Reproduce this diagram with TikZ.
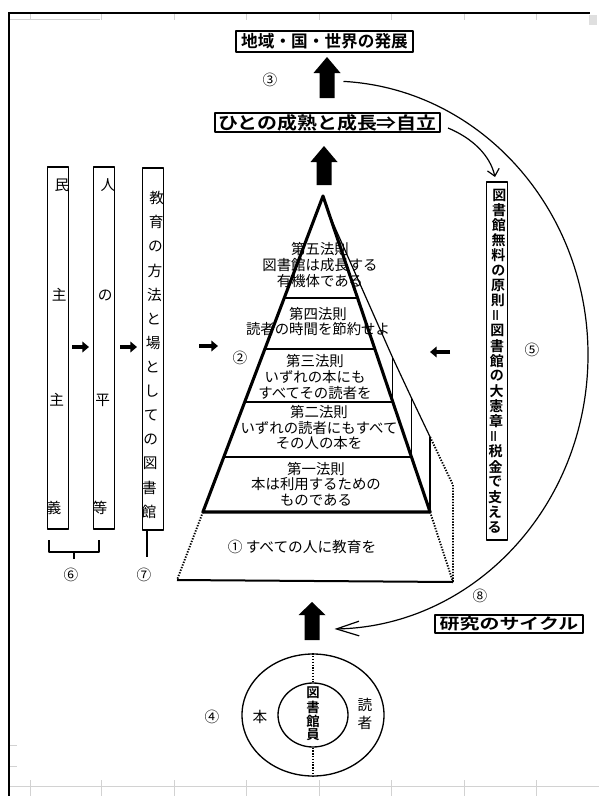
\documentclass[tikz,border=0pt]{standalone}
\usepackage{fontspec}
\usepackage{graphicx}
\newfontfamily\jp{Noto Sans CJK JP}[BoldFont={Noto Sans CJK JP Bold}]
\usetikzlibrary{arrows.meta,shapes.geometric}
\newcommand\bigUp[4]{%
  \fill (#1-7.5,#4) -- (#1-7.5,#3) -- (#1-13.5,#3) -- (#1,#2) -- (#1+13.5,#3) -- (#1+7.5,#3) -- (#1+7.5,#4) -- cycle;}
\tikzset{
  titlebox/.style={draw, line width=1.1pt, inner sep=0pt, font=\jp\bfseries},
  lawtxt/.style={font=\jp\fontsize{10.8}{11.7}\selectfont, align=center, inner sep=0pt},
  vch/.style={font=\jp\fontsize{11}{11}\selectfont, inner sep=0pt},
  vchb/.style={font=\jp\bfseries\fontsize{10.5}{10.5}\selectfont, inner sep=0pt},
  num/.style={font=\jp\fontsize{11}{11}\selectfont, inner sep=0pt},
  vbox/.style={draw, line width=0.9pt, inner sep=0pt, minimum width=15.6pt},
  smallarr/.style={line width=3pt, -{Triangle[length=5pt,width=8pt]}},
  dotline/.style={line width=1.4pt, dash pattern=on 1pt off 1.1pt},
  layer/.style={line width=1.1pt},
  thinline/.style={line width=0.9pt}
}
\begin{document}
\begin{tikzpicture}[x=0.75pt,y=-0.75pt,line join=round]
\useasboundingbox (0,0) rectangle (599,796);
\fill[white] (0,0) rectangle (599,796);

% sheet grid and frame
\begin{scope}[gray!35, line width=0.6pt]
  \draw (9,786) -- (599,786);
  \foreach \x in {30,101,174,246,319,391,464,536} {\draw (\x,780) -- (\x,796); \draw (\x,14) -- (\x,20);}
  \foreach \y in {745,766} {\draw (9,\y) -- (17,\y);}
  \draw (9,19) -- (100,19);
  \fill[gray!25] (589,15) rectangle (597,25);
\end{scope}
\draw[line width=2.2pt] (9,796) -- (9,13);
\draw[line width=1.5pt] (8,13) -- (590,13);

% top boxes
\node[titlebox, minimum width=132.75pt, minimum height=15.75pt] (t1) at (324.5,41.5)
  {\fontsize{12.5}{12.5}\selectfont 地域・国・世界の発展};
\node[titlebox, minimum width=168.75pt, minimum height=14.25pt] (t2) at (327.5,122.5)
  {\fontsize{13}{13}\selectfont\scalebox{1.15}[1]{ひとの成熟と成長⇒自立}};
\node[titlebox, minimum width=111pt, minimum height=13.5pt] (t3) at (509,624)
  {\fontsize{11.5}{11.5}\selectfont\scalebox{1.3}[1]{研究のサイクル}};

% big arrows
\bigUp{327}{57}{73}{98}
\bigUp{324}{146}{162}{185}
\bigUp{312}{602}{615}{640}

% numbers
\node[num] (n3) at (270,80) {③};
\node[num] (n2) at (240,358) {②};
\node[num] (n5) at (532,350) {⑤};
\node[num] (n8) at (480,596) {⑧};
\node[num] (n4) at (212,717) {④};
\node[num] (n6) at (71,575) {⑥};
\node[num] (n7) at (144,575) {⑦};

% pyramid
\coordinate (apex) at (323,196);
\coordinate (bl) at (202.9,512);
\coordinate (br) at (430.1,512);
\draw[line width=2.3pt] (bl) -- (apex) -- (br) -- cycle;
\draw[layer] (284.2,298) -- (357.6,298);
\draw[layer] (264.9,349) -- (374.9,349);
\draw[layer] (244.7,402) -- (392.8,402);
\draw[layer] (223.8,457) -- (411.5,457);
% side face
\draw[thinline] (329.4,215) -- (392.8,358) -- (411.5,398) -- (430.1,437);
\draw[dotline] (430.1,437) -- (453,485) -- (453,582);
\draw[line width=1pt] (392.8,402) -- (392.8,358);
\draw[line width=1pt] (411.5,457) -- (411.5,398);
\draw[line width=1pt] (430.1,512) -- (430.1,437);
% base
\draw[dotline] (bl) -- (177,580);
\draw[dotline] (br) -- (453,582);
\draw[line width=1.5pt] (177,580) -- (453,582);

\node[lawtxt] (law5) at (320,265) {第五法則\\図書館は成長する\\有機体である};
\node[lawtxt] (law4) at (318,321.5) {第四法則\\読者の時間を節約せよ};
\node[lawtxt] (law3) at (315,377) {第三法則\\いずれの本にも\\すべてその読者を};
\node[lawtxt] (law2) at (319,427.5) {第二法則\\いずれの読者にもすべて\\その人の本を};
\node[lawtxt] (law1) at (316,484) {第一法則\\本は利用するための\\ものである};
\node[font=\jp\fontsize{11}{11}\selectfont, inner sep=0pt] (edu) at (302,547) {① すべての人に教育を};

% left vertical boxes (slightly skewed like the scan)
\begin{scope}[shift={(8.7,0)}, xslant=0.025]
  \node[vbox, minimum height=271.5pt] (b1) at (58,348) {};
  \node[vbox, minimum height=271.5pt] (b2) at (104,348) {};
  \node[vbox, minimum height=271.5pt] (b3) at (153,349) {};
  \foreach \c/\y in {民/185,主/295,主/400,義/508} {\node[vch] at (58,\y) {\c};}
  \foreach \c/\y in {人/185,の/295,平/400,等/508} {\node[vch] at (104,\y) {\c};}
  \foreach \c [count=\i from 0] in {教,育,の,方,法,と,場,と,し,て,の,図,書,館}
    {\node[vch] at (153,{198+\i*24.15}) {\c};}
\end{scope}
\coordinate (a1s) at (72,347); \coordinate (a1e) at (89,347);
\coordinate (a2s) at (120,347); \coordinate (a2e) at (137,347);
\coordinate (a3s) at (199,346); \coordinate (a3e) at (218,346);
\coordinate (a4s) at (450,352); \coordinate (a4e) at (430,352);
\draw[smallarr] (a1s) -- (a1e);
\draw[smallarr] (a2s) -- (a2e);
\draw[smallarr] (a3s) -- (a3e);
\draw[smallarr] (a4s) -- (a4e);

% brackets 6 and 7
\draw[line width=1.1pt] (49,540) -- (49,552) -- (99,552) -- (99,540);
\draw[line width=1.1pt] (74,552) -- (74,559);
\draw[line width=1.1pt] (147,530) -- (147,557);

% right vertical box
\begin{scope}[shift={(5.05,0)}, xslant=0.014]
  \node[vbox, minimum height=268.5pt] (rb) at (497,361) {};
  \foreach \c [count=\i from 0] in {図,書,館,無,料,の,原,則,{\rotatebox{90}{＝}},図,書,館,の,大,憲,章,{\rotatebox{90}{＝}},税,金,で,支,え,る}
    {\node[vchb] at (497,{195+\i*15.09}) {\c};}
\end{scope}

% big research cycle arc
\coordinate (arcS) at (343.5,81.4);
\draw[thinline, -{Straight Barb[length=17pt,width=11pt]}] (arcS)
  arc[start angle=-87, end angle=89, x radius=258, y radius=274];
% small curved arrow
\coordinate (c1s) at (448,128);
\coordinate (c1e) at (495,177);
\draw[thinline, -{Straight Barb[length=5pt,width=9pt]}] (c1s) .. controls (472,138) and (490,155) .. (c1e);

% circles
\node[draw, ellipse, line width=1pt, minimum width=106.5pt, minimum height=91.5pt, inner sep=0pt] (outer) at (313,715) {};
\node[draw, ellipse, line width=1pt, minimum width=52.5pt, minimum height=48pt, inner sep=0pt] (inner) at (313,715) {};
\draw[dotline, line width=1.2pt] (outer.north) -- (inner.north);
\draw[dotline, line width=1.2pt] (inner.south) -- (outer.south);
\foreach \c/\y in {図/693,書/707,館/721,員/735} {\node[font=\jp\bfseries\fontsize{10}{10}\selectfont, inner sep=0pt] at (313,\y) {\c};}
\node[vch] (hon) at (260,717) {本};
\node[vch] (dok1) at (365,705) {読};
\node[vch] (dok2) at (365,723) {者};
\end{tikzpicture}
\end{document}
